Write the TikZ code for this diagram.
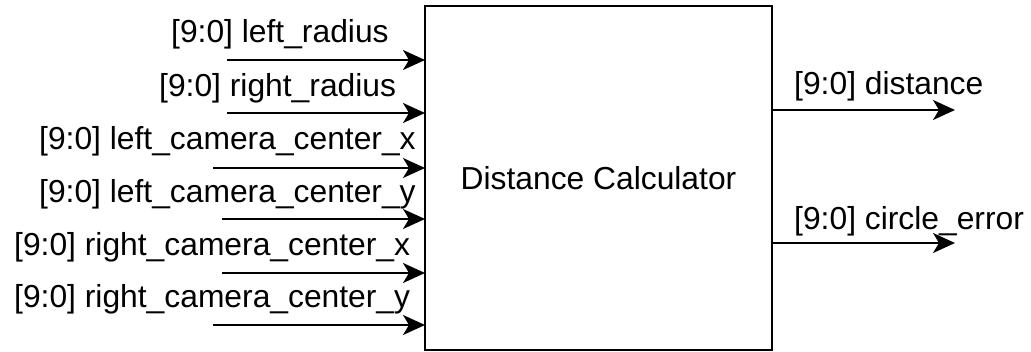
\documentclass[tikz,border=0pt]{standalone}
\usepackage{fontspec}
\setmainfont{Liberation Sans}
\usetikzlibrary{arrows.meta}
\begin{document}
\begin{tikzpicture}[x=1pt,y=-1pt,
  sig/.style={line width=2pt,-{Stealth[length=22pt,width=20pt,inset=6pt]}},
  lbl/.style={anchor=base west,inner sep=0pt,font=\fontsize{31.8}{36}\selectfont},
  blk/.style={draw,line width=2pt,minimum width=347pt,minimum height=344pt,inner sep=0pt,outer sep=0pt,font=\fontsize{31.8}{36}\selectfont}]
\useasboundingbox (0,0) rectangle (1031,352);
\node[blk] (calc) at (598.5,178) {Distance Calculator};
% inputs
\coordinate (i1) at (227,60);
\coordinate (i2) at (227,113);
\coordinate (i3) at (213,168);
\coordinate (i4) at (222,219);
\coordinate (i5) at (222,273);
\coordinate (i6) at (213,325);
\foreach \n in {1,...,6}{\draw[sig] (i\n) -- (i\n -| calc.west);}
\node[lbl] (l1) at (171,43) {[9:0] left\_radius};
\node[lbl] (l2) at (159,97) {[9:0] right\_radius};
\node[lbl] (l3) at (39,150) {[9:0] left\_camera\_center\_x};
\node[lbl] (l4) at (39,203) {[9:0] left\_camera\_center\_y};
\node[lbl] (l5) at (14,256) {[9:0] right\_camera\_center\_x};
\node[lbl] (l6) at (14,308) {[9:0] right\_camera\_center\_y};
% outputs
\coordinate (o1) at (955,110);
\coordinate (o2) at (955,243);
\draw[sig] (calc.east |- o1) -- (o1);
\draw[sig] (calc.east |- o2) -- (o2);
\node[lbl] (l7) at (794,95) {[9:0] distance};
\node[lbl] (l8) at (794,230) {[9:0] circle\_error};
\end{tikzpicture}
\end{document}
